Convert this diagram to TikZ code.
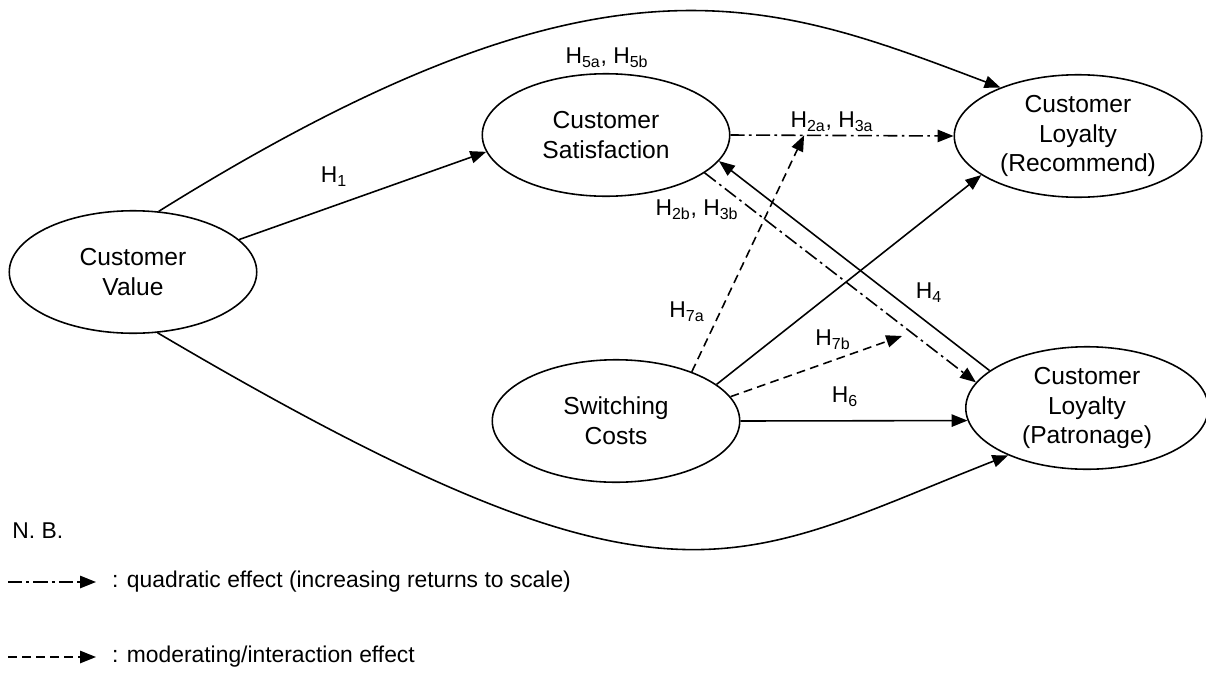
\documentclass[tikz,border=0pt]{standalone}
\usepackage{fontspec}
\setmainfont{Liberation Sans}
\usepackage{tikz}
\usetikzlibrary{shapes.geometric, arrows.meta, calc}

\begin{document}
\begin{tikzpicture}[
    x=0.02cm, y=-0.02cm,
    construct/.style={ellipse, draw, line width=0.9pt, inner sep=0pt, minimum width=4.95cm, minimum height=2.45cm, align=center, font=\fontsize{14}{17}\selectfont},
    arrow/.style={-{Triangle[length=9pt, width=7pt]}, line width=0.9pt},
    quad/.style={arrow, dash pattern=on 8pt off 2.5pt on 1.5pt off 2.5pt},
    moder/.style={arrow, dash pattern=on 5pt off 3pt},
    hyp/.style={font=\fontsize{13}{15}\selectfont, inner sep=0pt},
    legtext/.style={font=\fontsize{13}{15}\selectfont, anchor=west, inner sep=0pt}
]
    \useasboundingbox (0,0) rectangle (1206,673);

    % Constructs
    \node[construct] (cv) at (133,272) {Customer\\Value};
    \node[construct] (cs) at (606,135) {Customer\\Satisfaction};
    \node[construct] (rec) at (1078,136) {Customer\\Loyalty\\(Recommend)};
    \node[construct] (sc) at (616,421) {Switching\\Costs};
    \node[construct, minimum width=4.85cm] (pat) at (1087,408) {Customer\\Loyalty\\(Patronage)};

    % Direct effects
    \draw[arrow] (cv.17) -- (cs.188);
    \draw[arrow] (cv.67) .. controls (605,-67) and (769,0) .. (rec.148);
    \draw[arrow] (cv.-68) .. controls (670,635) and (731,564) .. (pat.211);
    \draw[arrow] (pat.159) -- (cs.-13);
    \draw[arrow] (sc.20) -- (rec.202);
    \draw[arrow] (sc.east) -- (pat.186);

    % Quadratic effects
    \draw[quad] (cs.east) -- (rec.west);
    \draw[quad] (cs.-21) -- (pat.167);

    % Moderating effects
    \coordinate (m7a) at ($(cs.east)!0.33!(rec.west)$);
    \coordinate (m7b) at (902,336);
    \draw[moder] (sc.33) -- (m7a);
    \draw[moder] (sc.12) -- (m7b);

    % Hypotheses
    \node[hyp] (h5) at (607,58) {H\textsubscript{5a}, H\textsubscript{5b}};
    \node[hyp] (h1) at (334,177) {H\textsubscript{1}};
    \node[hyp] (h2a) at (832,122) {H\textsubscript{2a}, H\textsubscript{3a}};
    \node[hyp] (h2b) at (697,210) {H\textsubscript{2b}, H\textsubscript{3b}};
    \node[hyp] (h7a) at (687,312) {H\textsubscript{7a}};
    \node[hyp] (h7b) at (833,340) {H\textsubscript{7b}};
    \node[hyp] (h4) at (929,293) {H\textsubscript{4}};
    \node[hyp] (h6) at (845,397) {H\textsubscript{6}};

    % Legend
    \node[legtext] (nb) at (12,531) {N. B.};
    \node[legtext, inner xsep=9pt] (lq) at (96,582) {: quadratic effect (increasing returns to scale)};
    \node[legtext, inner xsep=9pt] (lm) at (96,657) {: moderating/interaction effect};
    \coordinate (q0) at (8,582);
    \coordinate (m0) at (8,657);
    \draw[quad] (q0) -- (lq.west);
    \draw[moder] (m0) -- (lm.west);
\end{tikzpicture}
\end{document}
